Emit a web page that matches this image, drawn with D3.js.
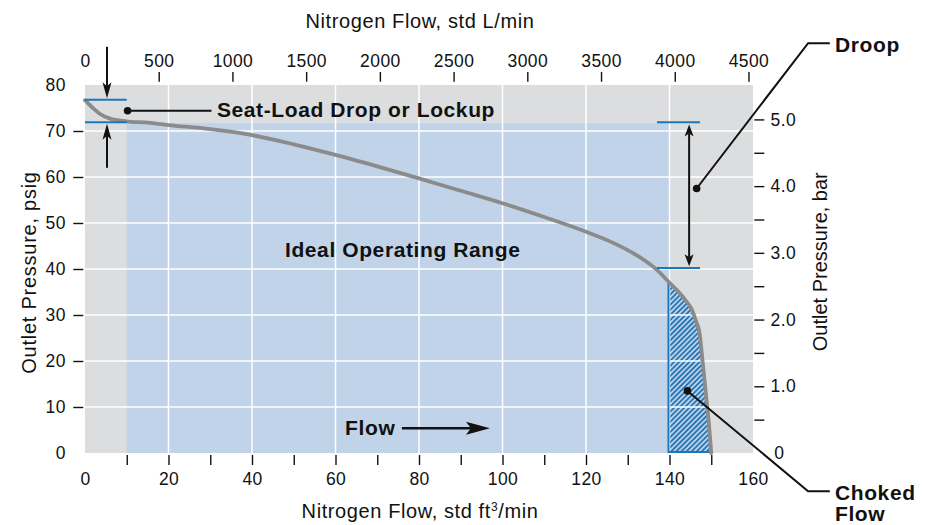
<!DOCTYPE html>
<html><head><meta charset="utf-8">
<script src="https://cdn.jsdelivr.net/npm/d3@7"></script>
<style>
html,body{margin:0;padding:0;background:#fff;}
svg{display:block;font-family:"Liberation Sans",Arial,Helvetica,sans-serif;}
</style></head><body>
<svg id="chart" width="925" height="525"></svg>
<script>
// ---------------- data ----------------
const flowScfm   = [0, 2, 3.6, 6, 10, 15, 20, 30, 40, 50, 60, 70, 80, 90, 100, 110, 120, 126, 130, 134, 137, 140, 142, 144, 145.3, 146.3, 147.2, 147.9, 148.7, 149.5, 150];
const outletPsig = [76.7, 74.9, 73.7, 72.7, 72.1, 71.8, 71.3, 70.4, 69.1, 67.1, 64.8, 62.3, 59.7, 57.0, 54.3, 51.3, 48.1, 45.9, 44.1, 41.9, 39.8, 37.0, 35.2, 33.0, 31.3, 28.8, 26.0, 20.2, 13.0, 5.7, 0];

const xTicksScfm      = [0, 10, 20, 30, 40, 50, 60, 70, 80, 90, 100, 110, 120, 130, 140, 150, 160];
const xTickLabelsScfm = ["0", "", "20", "", "40", "", "60", "", "80", "", "100", "", "120", "", "140", "", "160"];
const xTicksLmin      = [0, 500, 1000, 1500, 2000, 2500, 3000, 3500, 4000, 4500];
const yTicksPsig      = [0, 10, 20, 30, 40, 50, 60, 70, 80];
const yTicksBar       = [0, 0.5, 1.0, 1.5, 2.0, 2.5, 3.0, 3.5, 4.0, 4.5, 5.0];
const yTickLabelsBar  = ["0", "", "1.0", "", "2.0", "", "3.0", "", "4.0", "", "5.0"];
const gridScfm        = [20, 40, 60, 80, 100, 120, 140];
const gridPsig        = [10, 20, 30, 40, 50, 60, 70];

const idealFlow      = [10, 140];   // std ft3/min
const idealPsigTop   = 71.7;
const chokedFlow     = [140, 150];
const seatLoadFlow   = [0, 10];
const seatLoadPsig   = [76.8, 71.9];
const droopFlow      = [137, 147.3];
const droopPsig      = [71.9, 40.2];

const LPM_PER_SCFM = 28.3168;
const PSI_PER_BAR  = 14.5038;

// ---------------- scales ----------------
const svg = d3.select("#chart");
const x = d3.scaleLinear().domain([0, 160]).range([85, 753]);
const y = d3.scaleLinear().domain([0, 80]).range([453, 85]);
const xTop = d3.scaleLinear().domain([0, 160 * LPM_PER_SCFM]).range([85, 753]);
const yBar = d3.scaleLinear().domain([0, 80 / PSI_PER_BAR]).range([453, 85]);

const C = {bg:"#dcdddf", blue:"#c0d3e8", grid:"#ffffff", curve:"#8b8b8b", mark:"#1b78b8", ink:"#111"};
const FONT_TICK = 17.5, FONT_TITLE = 20, FONT_BOLD = 21;

const defs = svg.append("defs");
const pat = defs.append("pattern").attr("id","hatch").attr("patternUnits","userSpaceOnUse")
  .attr("width",3.6).attr("height",3.6).attr("patternTransform","rotate(45)");
pat.append("rect").attr("width",3.6).attr("height",3.6).attr("fill","#b7d1ea");
pat.append("line").attr("x1",1.8).attr("x2",1.8).attr("y1",0).attr("y2",3.6)
  .attr("stroke","#1f70ae").attr("stroke-width",1.7);
defs.append("clipPath").attr("id","chokeClip").append("rect")
  .attr("x", x(chokedFlow[0])).attr("y", y(80))
  .attr("width", x(160) - x(chokedFlow[0])).attr("height", y(0) - y(80));

// ---------------- background ----------------
svg.append("rect").attr("x", x(0)).attr("y", y(80)).attr("width", x(160) - x(0)).attr("height", y(0) - y(80)).attr("fill", C.bg);
svg.append("rect").attr("x", x(idealFlow[0])).attr("y", y(idealPsigTop))
  .attr("width", x(idealFlow[1]) - x(idealFlow[0])).attr("height", y(0) - y(idealPsigTop)).attr("fill", C.blue);

const pts = flowScfm.map((f, i) => [f, outletPsig[i]]);
svg.append("path").datum(pts).attr("clip-path","url(#chokeClip)")
  .attr("d", d3.area().x(d => x(d[0])).y0(y(0)).y1(d => y(d[1])).curve(d3.curveMonotoneX))
  .attr("fill","url(#hatch)");

// grid
svg.append("g").selectAll("line").data(gridScfm).join("line")
  .attr("x1", d => x(d)).attr("x2", d => x(d)).attr("y1", y(80)).attr("y2", y(0))
  .attr("stroke", C.grid).attr("stroke-width", 1.5);
svg.append("g").selectAll("line").data(gridPsig).join("line")
  .attr("x1", x(0)).attr("x2", x(160)).attr("y1", d => y(d)).attr("y2", d => y(d))
  .attr("stroke", C.grid).attr("stroke-width", 1.5);

// choked flow outline
const chokeTop = outletPsig[flowScfm.indexOf(chokedFlow[0])];
svg.append("path")
  .attr("d", `M${x(chokedFlow[0]) - 1},${y(chokeTop)} L${x(chokedFlow[0]) - 1},${y(0) - 1} L${x(chokedFlow[1])},${y(0) - 1}`)
  .attr("fill","none").attr("stroke", C.mark).attr("stroke-width", 2);

// curve
svg.append("path").datum(pts)
  .attr("d", d3.line().x(d => x(d[0])).y(d => y(d[1])).curve(d3.curveMonotoneX))
  .attr("fill","none").attr("stroke", C.curve).attr("stroke-width", 3.8).attr("stroke-linecap","round");

// markers
seatLoadPsig.forEach(p => svg.append("line").attr("x1", x(seatLoadFlow[0])).attr("x2", x(seatLoadFlow[1]))
  .attr("y1", y(p)).attr("y2", y(p)).attr("stroke", C.mark).attr("stroke-width", 2));
droopPsig.forEach(p => svg.append("line").attr("x1", x(droopFlow[0])).attr("x2", x(droopFlow[1]))
  .attr("y1", y(p)).attr("y2", y(p)).attr("stroke", C.mark).attr("stroke-width", 2));

// ---------------- axes ----------------
function styleAxis(g, hideVals) {
  g.select(".domain").remove();
  g.selectAll(".tick line").attr("stroke", C.ink).attr("stroke-width", 1.4)
    .attr("display", d => hideVals.includes(d) ? "none" : null);
  g.selectAll(".tick text").attr("fill", C.ink).attr("font-size", FONT_TICK)
    .attr("font-family", '"Liberation Sans",Arial,sans-serif').attr("letter-spacing", 0.4);
}
const gB = svg.append("g").attr("transform", `translate(0,455)`)
  .call(d3.axisBottom(x).tickValues(xTicksScfm).tickSize(10).tickPadding(7.6)
    .tickFormat((d, i) => xTickLabelsScfm[i]));
styleAxis(gB, [0, 160]);
const gT = svg.append("g").attr("transform", `translate(0,81.7)`)
  .call(d3.axisTop(xTop).tickValues(xTicksLmin).tickSize(9.7).tickPadding(5.3).tickFormat(d3.format("d")));
styleAxis(gT, [0]);
const gL = svg.append("g").attr("transform", `translate(83.3,0)`)
  .call(d3.axisLeft(y).tickValues(yTicksPsig).tickSize(10).tickPadding(7.5).tickFormat(d3.format("d")));
styleAxis(gL, [0, 80]);
const gR = svg.append("g").attr("transform", `translate(754.3,0)`)
  .call(d3.axisRight(yBar).tickValues(yTicksBar).tickSize(10).tickPadding(6.3)
    .tickFormat((d, i) => yTickLabelsBar[i]));
styleAxis(gR, [0]);
gR.selectAll(".tick text").filter(d => d === 0).attr("x", 20);

// titles
function txt(str, attrs) {
  const t = svg.append("text").text(str).attr("fill", C.ink);
  Object.entries(attrs).forEach(([k, v]) => t.attr(k, v));
  return t;
}
txt("Nitrogen Flow, std L/min", {x: 420, y: 28.3, "text-anchor":"middle", "font-size":FONT_TITLE, "letter-spacing":0.6});
const bt = svg.append("text").attr("x", 420).attr("y", 518.3).attr("text-anchor","middle")
  .attr("font-size", FONT_TITLE).attr("letter-spacing", 0.6).attr("fill", C.ink);
bt.append("tspan").text("Nitrogen Flow, std ft");
bt.append("tspan").text("3").attr("font-size", 12).attr("dy", -7);
bt.append("tspan").text("/min").attr("dy", 7);
txt("Outlet Pressure, psig", {transform:"translate(36,272.5) rotate(-90)", "text-anchor":"middle", "font-size":FONT_TITLE, "letter-spacing":0.75});
txt("Outlet Pressure, bar", {transform:"translate(826.5,261.7) rotate(-90)", "text-anchor":"middle", "font-size":FONT_TITLE});

// ---------------- annotations ----------------
function arrowHead(tip, dir, len, half, notch) {
  const [tx, ty] = tip, [dx, dy] = dir, px = -dy, py = dx;
  const bx = tx - dx * len, by = ty - dy * len;
  const nx = tx - dx * (len - notch), ny = ty - dy * (len - notch);
  svg.append("path").attr("d", `M${tx},${ty} L${bx + px*half},${by + py*half} L${nx},${ny} L${bx - px*half},${by - py*half} Z`)
    .attr("fill", C.ink);
  return [nx, ny];
}
function seg(a, b, w) {
  svg.append("line").attr("x1", a[0]).attr("y1", a[1]).attr("x2", b[0]).attr("y2", b[1])
    .attr("stroke", C.ink).attr("stroke-width", w);
}
function poly(list, w) {
  svg.append("path").attr("d", d3.line()(list)).attr("fill","none").attr("stroke", C.ink).attr("stroke-width", w);
}
function dot(p) { svg.append("circle").attr("cx", p[0]).attr("cy", p[1]).attr("r", 3.8).attr("fill", C.ink); }

// seat-load arrows
let n = arrowHead([x(5.27), y(77.1)], [0, 1], 16, 4.5, 4);
seg([x(5.27), y(88.3)], n, 2);
n = arrowHead([x(5.27), y(71.6)], [0, -1], 16, 4.5, 4);
seg([x(5.27), y(62)], n, 2);
dot([x(10.2), y(74.4)]);
seg([x(10.2), y(74.4)], [x(30.3), y(74.4)], 2);
txt("Seat-Load Drop or Lockup", {x: x(31.6), y: y(73.1), "font-size":FONT_BOLD, "font-weight":"bold", "letter-spacing":0.6});

txt("Ideal Operating Range", {x: x(47.9), y: y(42.7), "font-size":FONT_BOLD, "font-weight":"bold", "letter-spacing":0.6});

// flow arrow
txt("Flow", {x: x(62.3), y: y(3.9), "font-size":FONT_BOLD, "font-weight":"bold", "letter-spacing":0.6});
n = arrowHead([x(97), y(5.4)], [1, 0], 24, 6.5, 5);
seg([x(75.9), y(5.4)], n, 2.5);

// droop
const dx0 = x(144.7);
let n1 = arrowHead([dx0, y(71.4)], [0, -1], 12, 4.5, 3);
let n2 = arrowHead([dx0, y(40.6)], [0, 1], 12, 4.5, 3);
seg(n1, n2, 2);
dot([x(146.5), y(57.5)]);
poly([[x(146.5), y(57.5)], [x(173.2), y(89.1)], [x(178.4), y(89.1)]], 2);
txt("Droop", {x: 835, y: 52.3, "font-size":FONT_BOLD, "font-weight":"bold", "letter-spacing":0.6});

// choked flow
dot([x(144.3), y(13.5)]);
poly([[x(144.3), y(13.5)], [x(173.2), y(-8.3)], [x(178.4), y(-8.3)]], 2);
txt("Choked", {x: 835, y: 499.5, "font-size":FONT_BOLD, "font-weight":"bold", "letter-spacing":0.6});
txt("Flow", {x: 835, y: 521, "font-size":FONT_BOLD, "font-weight":"bold", "letter-spacing":0.6});
</script>
</body></html>
